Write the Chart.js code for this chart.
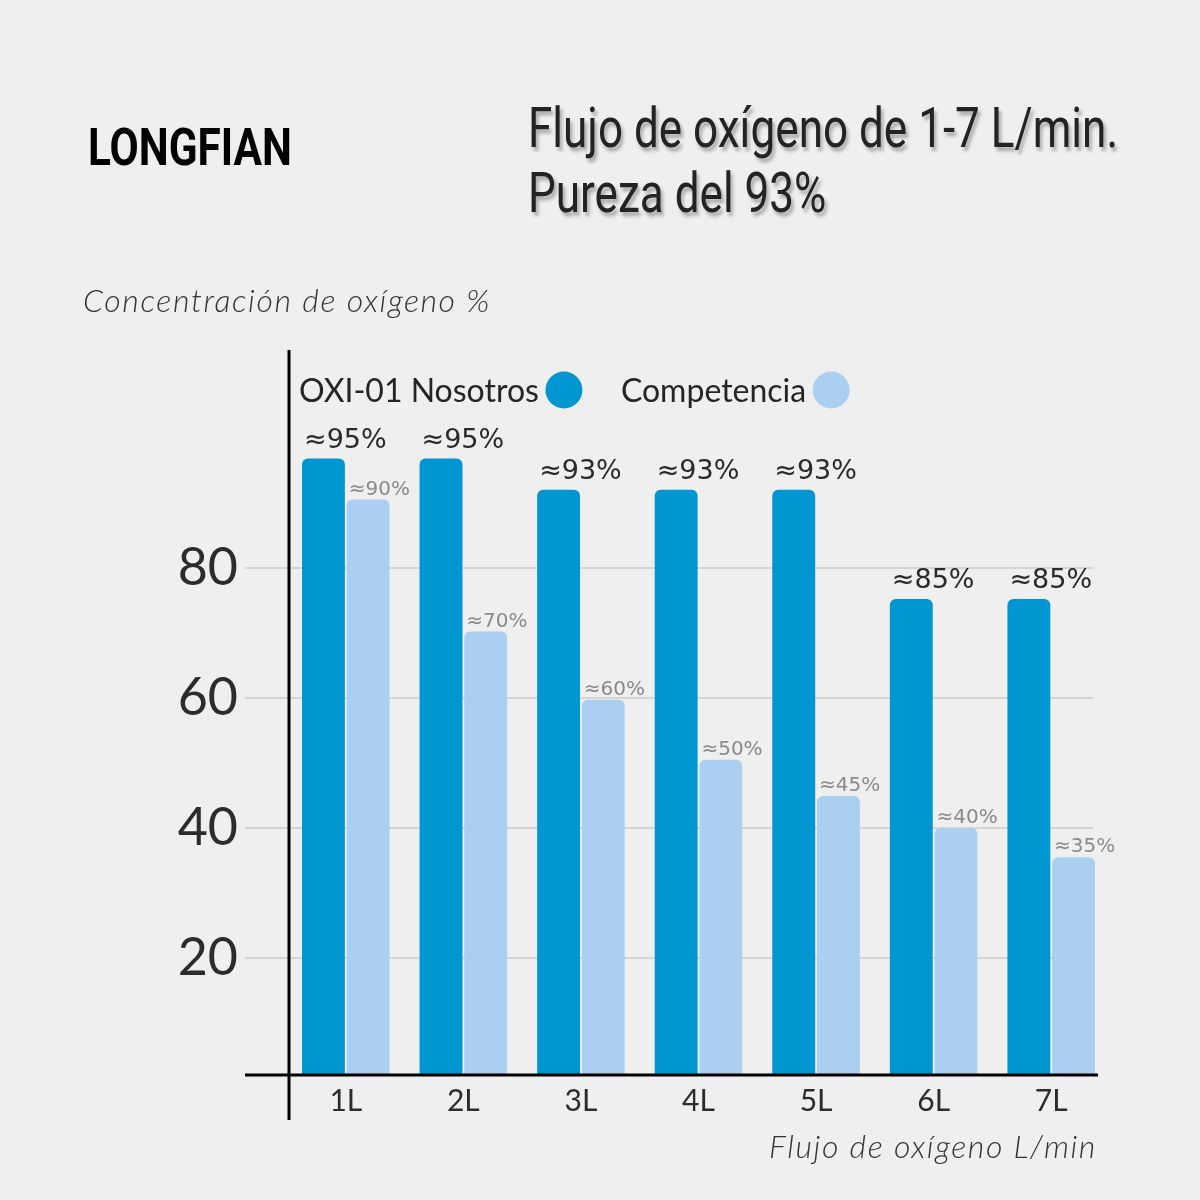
<!DOCTYPE html>
<html>
<head>
<meta charset="utf-8">
<script src="https://cdn.jsdelivr.net/npm/chart.js@4.4.1/dist/chart.umd.min.js"></script>
<style>
html,body{margin:0;padding:0;background:#efefef;}
#wrap{position:relative;width:1200px;height:1200px;overflow:hidden;background:#efefef;}
#chart{position:absolute;left:0;top:0;}
.brand{position:absolute;left:88px;top:123px;font:bold 51px/50px Roboto,sans-serif;color:#000;white-space:nowrap;transform-origin:0 0;}
.title{position:absolute;left:528px;top:96px;font:55px/65px Roboto,sans-serif;color:#232323;text-shadow:3px 4px 4px rgba(0,0,0,.3);white-space:nowrap;transform-origin:0 0;}
.title span{display:block;}
.axt{position:absolute;font:italic 300 32px/32px Lato,sans-serif;color:#333;white-space:nowrap;letter-spacing:1.6px;}
.ytitle{left:83px;top:284px;}
.xtitle{right:103px;top:1130px;}
</style>
</head>
<body>
<div id="wrap">
  <canvas id="chart" width="1200" height="1200"></canvas>
  <div class="brand" id="brand">LONGFIAN</div>
  <div class="title" id="title"><span id="t1">Flujo de oxígeno de 1-7 L/min.</span><span>Pureza del 93%</span></div>
  <div class="axt ytitle">Concentración de oxígeno %</div>
  <div class="axt xtitle">Flujo de oxígeno L/min</div>
</div>
<script>
// values (bar heights on the drawn scale)
const categories = ["1L", "2L", "3L", "4L", "5L", "6L", "7L"];
const seriesNames = ["OXI-01 Nosotros", "Competencia"];
const nosotros = [96.8, 96.8, 92, 92, 92, 75.2, 75.2];
const competencia = [90.5, 70.2, 59.7, 50.5, 44.9, 40, 35.5];
const nosotrosLabels = ["≈95%", "≈95%", "≈93%", "≈93%", "≈93%", "≈85%", "≈85%"];
const competenciaLabels = ["≈90%", "≈70%", "≈60%", "≈50%", "≈45%", "≈40%", "≈35%"];
const yTicks = [20, 40, 60, 80];

const DARK = "#0096d1";
const LIGHT = "#aacff0";
const FONT = "Lato, 'DejaVu Sans', sans-serif";
const LABEL_FONT = "'DejaVu Sans', sans-serif";

// condensed look for the headings: squeeze to the widths in the picture
function squeeze(el, ref, target){
  const w = ref.getBoundingClientRect().width;
  el.style.transform = `scaleX(${target / w})`;
}
const t1 = document.getElementById("t1");
t1.style.display = "inline-block";
squeeze(document.getElementById("title"), t1, 590);
t1.style.display = "block";
const brand = document.getElementById("brand");
squeeze(brand, brand, 204);
brand.style.width = "auto";

// grid lines (reach past the y axis) + crossed axis lines
const axesPlugin = {
  id: "axes",
  beforeDatasetsDraw(chart){
    const {ctx, chartArea:a, scales:{y}} = chart;
    ctx.save();
    ctx.strokeStyle = "#d4d4d4";
    ctx.lineWidth = 2;
    yTicks.forEach(v => {
      const py = Math.round(y.getPixelForValue(v));
      ctx.beginPath();
      ctx.moveTo(a.left - 42, py);
      ctx.lineTo(a.right - 17, py);
      ctx.stroke();
    });
    ctx.restore();
  },
  afterDatasetsDraw(chart){
    const {ctx, chartArea:a} = chart;
    ctx.save();
    ctx.strokeStyle = "#000";
    ctx.lineWidth = 3;
    ctx.beginPath();
    ctx.moveTo(a.left + 2, a.top);
    ctx.lineTo(a.left + 2, a.bottom + 45);
    ctx.moveTo(a.left - 42, a.bottom);
    ctx.lineTo(a.right - 12, a.bottom);
    ctx.stroke();
    ctx.restore();
  }
};

// value labels, left aligned on each bar
const valueLabels = {
  id: "valueLabels",
  afterDatasetsDraw(chart){
    const ctx = chart.ctx;
    const texts = [nosotrosLabels, competenciaLabels];
    ctx.save();
    ctx.textAlign = "left";
    ctx.textBaseline = "alphabetic";
    chart.data.datasets.forEach((ds, i) => {
      const meta = chart.getDatasetMeta(i);
      ctx.font = i === 0 ? `27px ${LABEL_FONT}` : `20px ${LABEL_FONT}`;
      ctx.fillStyle = i === 0 ? "#2a2a2a" : "#8a8a8a";
      meta.data.forEach((bar, j) => {
        const x = bar.x - bar.width / 2 + 2;
        const yy = bar.y - (i === 0 ? 11 : 5);
        ctx.fillText(texts[i][j], x, yy);
      });
    });
    ctx.restore();
  }
};

// legend: text first, dot after
const dotLegend = {
  id: "dotLegend",
  afterDraw(chart){
    const {ctx, chartArea:a} = chart;
    ctx.save();
    ctx.font = `32px ${FONT}`;
    ctx.textBaseline = "alphabetic";
    ctx.textAlign = "left";
    let x = a.left + 12;
    const cy = a.top + 40;
    chart.data.datasets.forEach(ds => {
      ctx.fillStyle = "#252525";
      ctx.fillText(ds.label, x, cy + 12);
      const w = ctx.measureText(ds.label).width;
      const cx = x + w + 25;
      ctx.fillStyle = ds.backgroundColor;
      ctx.beginPath();
      ctx.arc(cx, cy, 18.5, 0, Math.PI * 2);
      ctx.fill();
      x = cx + 57;
    });
    ctx.restore();
  }
};

new Chart(document.getElementById("chart"), {
  type: "bar",
  data: {
    labels: categories,
    datasets: [
      { label: seriesNames[0], data: nosotros, backgroundColor: DARK },
      { label: seriesNames[1], data: competencia, backgroundColor: LIGHT }
    ]
  },
  options: {
    responsive: false,
    animation: false,
    layout: { padding: { left: 0, right: 90, top: 350, bottom: 0 } },
    datasets: {
      bar: {
        categoryPercentage: 0.76,
        barPercentage: 0.96,
        borderWidth: 0,
        borderRadius: { topLeft: 6, topRight: 6, bottomLeft: 0, bottomRight: 0 },
        borderSkipped: "start"
      }
    },
    plugins: { legend: { display: false }, tooltip: { enabled: false } },
    scales: {
      x: {
        grid: { display: false, drawTicks: false },
        border: { display: false },
        ticks: { color: "#2c2c2c", font: { family: FONT, size: 30 }, padding: 8 },
        afterFit(scale){ scale.height = 125; }
      },
      y: {
        min: 2,
        max: 113.5,
        grid: { display: false, drawTicks: false },
        border: { display: false },
        ticks: { color: "#2c2c2c", font: { family: FONT, size: 52 }, padding: 49 },
        afterBuildTicks(scale){ scale.ticks = yTicks.map(v => ({ value: v })); },
        afterFit(scale){ scale.width = 287; }
      }
    }
  },
  plugins: [axesPlugin, valueLabels, dotLegend]
});
</script>
</body>
</html>
